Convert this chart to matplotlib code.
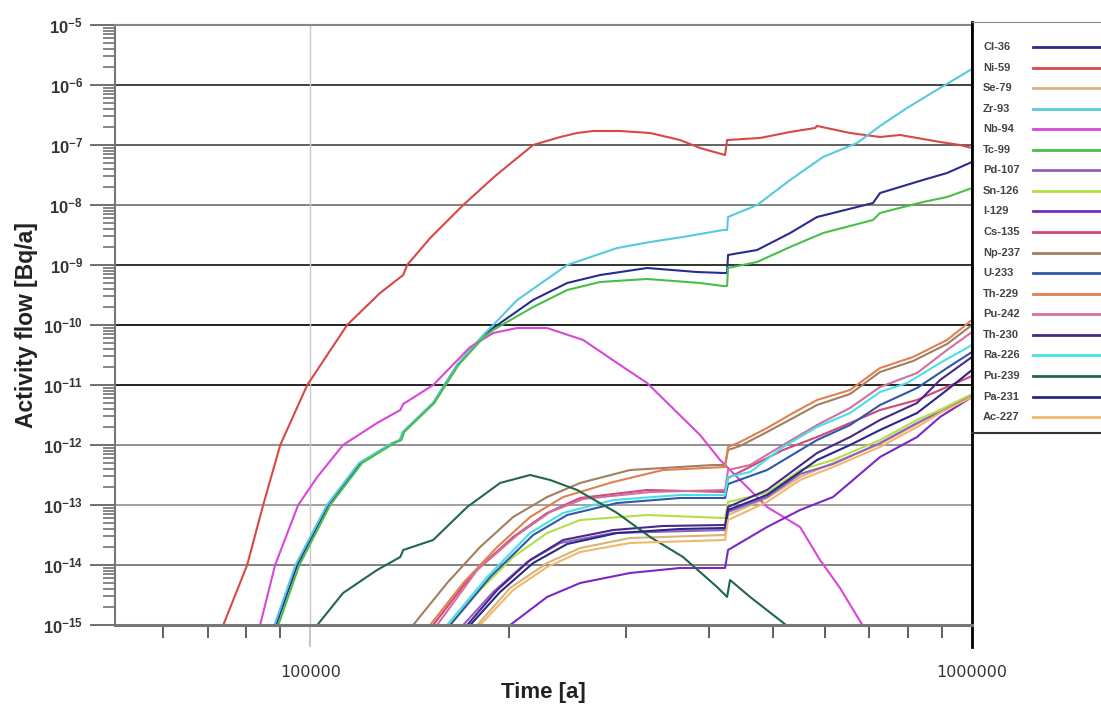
import numpy as np
import matplotlib.pyplot as plt
from matplotlib.ticker import FixedLocator, LogLocator, FuncFormatter, NullFormatter

plt.rcParams['font.family'] = ['Liberation Sans', 'DejaVu Sans']
plt.rcParams['mathtext.fontset'] = 'custom'
plt.rcParams['mathtext.rm'] = 'Liberation Sans'
plt.rcParams['mathtext.bf'] = 'Liberation Sans:bold'

# time [a] and log10 of activity flow [Bq/a]
t_cl36 = [88800, 95600, 106500, 119000, 133400, 136800, 138200, 153400, 166800, 182500, 189000, 217200,
          244500, 274200, 322900, 384200, 420600, 426500, 427900, 473400, 531100, 583300, 708600, 726200,
          843400, 916700, 1000000]
lg_cl36 = [-15, -14, -13, -12.3, -11.967, -11.917, -11.783, -11.3, -10.667, -10.183, -10.05, -9.583,
           -9.3, -9.167, -9.05, -9.117, -9.133, -9.133, -8.833, -8.75, -8.467, -8.2, -7.967, -7.8,
           -7.583, -7.467, -7.283]

t_ni59 = [73900, 80300, 84900, 90100, 98970, 113700, 127500, 138200, 140100, 151800, 170300, 190300,
          217200, 238600, 253000, 267600, 294000, 326300, 362100, 388200, 423500, 426500, 478400, 531100,
          579200, 583300, 654200, 726200, 778600, 894700, 959300, 1000000]
lg_ni59 = [-15, -14, -13, -12, -11, -10, -9.467, -9.167, -9.0, -8.55, -8.0, -7.517,
           -7.0, -6.867, -6.8, -6.767, -6.767, -6.8, -6.917, -7.05, -7.167, -6.917, -6.883, -6.783,
           -6.717, -6.683, -6.8, -6.867, -6.833, -6.95, -7.0, -7.05]

t_se79 = [178800, 200500, 228000, 255800, 304300, 423500, 427900, 490100, 549800, 616600, 726200, 826000,
          894700, 1000000]
lg_se79 = [-15, -14.383, -13.967, -13.717, -13.55, -13.5, -13.167, -12.883, -12.533, -12.3, -11.983, -11.65,
           -11.417, -11.167]

t_zr93 = [88300, 95000, 106000, 118500, 133000, 136500, 138000, 153400, 166800, 182500, 189000, 205500,
          244500, 290900, 326300, 365900, 420600, 426500, 427900, 473400, 531100, 595500, 670300, 726200,
          797800, 894700, 1000000]
lg_zr93 = [-15, -14, -13, -12.3, -11.967, -11.917, -11.783, -11.3, -10.667, -10.167, -10.0, -9.583,
           -9.0, -8.717, -8.617, -8.533, -8.417, -8.417, -8.2, -8.0, -7.583, -7.2, -6.967, -6.683,
           -6.383, -6.05, -5.733]

t_nb94 = [84000, 88500, 95900, 102500, 112100, 126200, 136800, 138200, 153400, 174500, 189000, 205500,
          228000, 258500, 290900, 322900, 388200, 416200, 490100, 549800, 589300, 631700, 684400]
lg_nb94 = [-15, -14, -13, -12.533, -12, -11.633, -11.417, -11.317, -11.0, -10.367, -10.133, -10.05,
           -10.05, -10.25, -10.633, -10.967, -11.833, -12.25, -13.033, -13.367, -13.917, -14.383, -15.017]

t_tc99 = [89500, 96300, 107200, 119800, 134000, 137300, 138700, 154000, 167500, 183000, 189000, 217200,
          244500, 274200, 322900, 388200, 420600, 426500, 427900, 473400, 531100, 595500, 708600, 726200,
          843400, 916700, 1000000]
lg_tc99 = [-15, -14, -13, -12.3, -11.967, -11.917, -11.783, -11.3, -10.667, -10.2, -10.083, -9.7,
           -9.417, -9.283, -9.233, -9.3, -9.35, -9.35, -9.05, -8.95, -8.7, -8.467, -8.25, -8.133,
           -7.95, -7.867, -7.717]

t_pd107 = [170300, 189000, 212700, 238600, 286900, 423500, 427900, 490100, 549800, 616600, 726200, 826000,
           894700, 1000000]
lg_pd107 = [-15, -14.45, -13.95, -13.633, -13.467, -13.417, -13.117, -12.867, -12.483, -12.317, -11.967, -11.633,
            -11.45, -11.183]

t_sn126 = [162700, 180600, 202600, 228000, 255800, 322900, 423500, 427900, 490100, 549800, 616600, 726200,
           826000, 894700, 1000000]
lg_sn126 = [-15, -14.417, -13.867, -13.467, -13.25, -13.167, -13.217, -12.95, -12.8, -12.417, -12.25, -11.917,
            -11.583, -11.417, -11.15]

t_i129 = [200500, 228000, 255800, 304300, 362100, 423500, 427900, 490100, 549800, 616600, 726200, 826000,
          894700, 1000000]
lg_i129 = [-15, -14.533, -14.3, -14.133, -14.05, -14.05, -13.75, -13.367, -13.083, -12.867, -12.2, -11.867,
           -11.533, -11.2]

t_cs135 = [153400, 176300, 202600, 228000, 255800, 322900, 423500, 427900, 518300, 583300, 654200, 726200,
           826000, 894700, 1000000]
lg_cs135 = [-15, -14.133, -13.533, -13.133, -12.883, -12.75, -12.783, -12.55, -12.083, -11.867, -11.633, -11.417,
            -11.25, -11.083, -10.85]

t_np237 = [143100, 161000, 180600, 202600, 228000, 255800, 304300, 406200, 423500, 427900, 446200, 490100,
           536600, 583300, 654200, 726200, 814700, 916700, 1000000]
lg_np237 = [-15, -14.3, -13.7, -13.2, -12.867, -12.633, -12.417, -12.333, -12.333, -12.083, -12.017, -11.783,
            -11.55, -11.333, -11.15, -10.783, -10.6, -10.317, -10.0]

t_u233 = [162700, 187000, 217200, 244500, 290900, 362100, 423500, 427900, 490100, 583300, 654200, 726200,
          826000, 916700, 1000000]
lg_u233 = [-15, -14.2, -13.5, -13.167, -12.967, -12.883, -12.883, -12.65, -12.417, -11.917, -11.667, -11.333,
           -11.05, -10.717, -10.45]

t_th229 = [151800, 170300, 191700, 214900, 241100, 286900, 341300, 423500, 427900, 446200, 490100, 536600,
           583300, 654200, 726200, 814700, 916700, 1000000]
lg_th229 = [-15, -14.3, -13.7, -13.2, -12.867, -12.617, -12.417, -12.367, -12.033, -11.95, -11.717, -11.467,
            -11.25, -11.083, -10.717, -10.533, -10.25, -9.917]

t_pu242 = [155500, 178800, 205500, 230400, 258500, 326300, 423500, 427900, 462100, 518300, 583300, 654200,
           726200, 826000, 916700, 1000000]
lg_pu242 = [-15, -14.083, -13.5, -13.117, -12.9, -12.783, -12.75, -12.417, -12.333, -12.0, -11.667, -11.383,
            -11.033, -10.8, -10.417, -10.117]

t_th230 = [172700, 191700, 214900, 241100, 286900, 341300, 423500, 427900, 490100, 583300, 654200, 726200,
           826000, 894700, 1000000]
lg_th230 = [-15, -14.417, -13.917, -13.583, -13.417, -13.35, -13.333, -13.033, -12.75, -12.133, -11.867, -11.583,
            -11.3, -10.917, -10.533]

t_ra226 = [161000, 185100, 214900, 241100, 286900, 362100, 423500, 427900, 462100, 518300, 583300, 654200,
           726200, 797800, 894700, 1000000]
lg_ra226 = [-15, -14.2, -13.467, -13.133, -12.917, -12.833, -12.833, -12.533, -12.45, -12.033, -11.7, -11.467,
            -11.117, -10.967, -10.633, -10.333]

t_pu239 = [102500, 112100, 126200, 136800, 138200, 153400, 172700, 193600, 214900, 230400, 253100, 290900,
           326300, 365900, 411900, 426500, 430900, 462100, 523600]
lg_pu239 = [-15, -14.467, -14.083, -13.867, -13.75, -13.583, -13.033, -12.633, -12.5, -12.583, -12.75, -13.133,
            -13.533, -13.867, -14.367, -14.533, -14.25, -14.533, -15.0]

t_pa231 = [174500, 193600, 217200, 244500, 290900, 362100, 423500, 427900, 490100, 583300, 654200, 726200,
           826000, 916700, 1000000]
lg_pa231 = [-15, -14.45, -13.967, -13.65, -13.467, -13.4, -13.383, -13.083, -12.833, -12.25, -12.0, -11.75,
            -11.467, -11.083, -10.75]

t_ac227 = [180600, 202600, 228000, 255800, 304300, 423500, 427900, 490100, 549800, 616600, 726200, 826000,
           894700, 1000000]
lg_ac227 = [-15, -14.417, -14.033, -13.783, -13.633, -13.583, -13.25, -12.95, -12.583, -12.367, -12.033, -11.7,
            -11.467, -11.2]

nuclides = ['Cl-36', 'Ni-59', 'Se-79', 'Zr-93', 'Nb-94', 'Tc-99', 'Pd-107', 'Sn-126', 'I-129', 'Cs-135',
            'Np-237', 'U-233', 'Th-229', 'Pu-242', 'Th-230', 'Ra-226', 'Pu-239', 'Pa-231', 'Ac-227']
times = [t_cl36, t_ni59, t_se79, t_zr93, t_nb94, t_tc99, t_pd107, t_sn126, t_i129, t_cs135,
         t_np237, t_u233, t_th229, t_pu242, t_th230, t_ra226, t_pu239, t_pa231, t_ac227]
flows = [lg_cl36, lg_ni59, lg_se79, lg_zr93, lg_nb94, lg_tc99, lg_pd107, lg_sn126, lg_i129, lg_cs135,
         lg_np237, lg_u233, lg_th229, lg_pu242, lg_th230, lg_ra226, lg_pu239, lg_pa231, lg_ac227]
colors = ['#2b2b8f', '#d84848', '#d8b47c', '#58c8e0', '#d848d8', '#48c048', '#9060c0', '#b0e048',
          '#7a28c8', '#d04878', '#a08060', '#3058a8', '#e08050', '#d070a0', '#482888', '#48e0e8',
          '#206848', '#282888', '#f0b868']

W, H = 1101, 706
fig = plt.figure(figsize=(W / 100, H / 100), dpi=100)
ax = fig.add_axes([115 / W, 81 / H, 857 / W, 600 / H])
ax.set_xscale('log')
ax.set_yscale('log')

# decade grid lines, some darker than others
grid_col = {-6: '#333333', -7: '#555555', -8: '#777777', -9: '#222222', -10: '#111111',
            -11: '#111111', -12: '#888888', -13: '#999999', -14: '#777777'}
for k, c in grid_col.items():
    ax.axhline(10.0 ** k, color=c, lw=1.3, zorder=0.5)
ax.axvline(1e5, color='#c8c8c8', lw=1, zorder=0.5)

for t, lg, c in zip(times, flows, colors):
    ax.plot(t, 10.0 ** np.array(lg), color=c, lw=1.5)

ax.set_xlim(50700, 1e6)
ax.set_ylim(1e-15, 1e-5)

ax.yaxis.set_major_locator(FixedLocator([10.0 ** k for k in range(-15, -4)]))
ax.yaxis.set_minor_locator(LogLocator(base=10, subs=np.arange(2, 10), numticks=50))
ax.yaxis.set_minor_formatter(NullFormatter())
ax.yaxis.set_major_formatter(FuncFormatter(lambda v, p: r'$\mathbf{10^{%d}}$' % round(np.log10(v))))
ax.tick_params(axis='y', which='major', direction='out', length=18, width=1.2, color='#555555',
               labelsize=12, labelcolor='#333333', pad=5)
ax.tick_params(axis='y', which='minor', direction='out', length=9, width=1.1, color='#666666')

ax.xaxis.set_major_locator(FixedLocator([1e5, 1e6]))
ax.xaxis.set_minor_locator(LogLocator(base=10, subs=np.arange(2, 10), numticks=50))
ax.xaxis.set_minor_formatter(NullFormatter())
ax.xaxis.set_major_formatter(FuncFormatter(lambda v, p: '%d' % v))
ax.tick_params(axis='x', which='major', direction='out', length=16, width=1.2, color='#bbbbbb',
               labelsize=11.5, labelcolor='#333333', pad=13)
ax.tick_params(axis='x', which='minor', direction='out', length=9, width=1.2, color='#444444')
for lab in ax.get_xticklabels():
    lab.set_fontfamily('DejaVu Sans')
# right frame runs on below the axis as a black tick at 1e6
ax.plot([1e6, 1e6], [0, -16 * 100 / 72 / 600], transform=ax.get_xaxis_transform(),
        color='black', lw=2, clip_on=False)

ax.spines['left'].set_color('#777777')
ax.spines['left'].set_linewidth(1.5)
ax.spines['bottom'].set_color('#777777')
ax.spines['bottom'].set_linewidth(2.2)
ax.spines['top'].set_color('#888888')
ax.spines['top'].set_linewidth(1.5)
ax.spines['right'].set_color('black')
ax.spines['right'].set_linewidth(2)

ax.set_xlabel('Time [a]', fontsize=16, fontweight='bold', color='#222222')
ax.xaxis.set_label_coords(0.5, -0.095)
ax.set_ylabel('Activity flow [Bq/a]', fontsize=16.5, fontweight='bold', color='#222222')
ax.yaxis.set_label_coords(-0.09, 0.5)

# legend box drawn by hand: names on the left, lines on the right
lax = fig.add_axes([972 / W, 1 - 433 / H, 140 / W, 411 / H])
lax.set_xlim(0, 140)
lax.set_ylim(411, 0)
lax.set_xticks([])
lax.set_yticks([])
lax.spines['left'].set_color('black')
lax.spines['left'].set_linewidth(2)
lax.spines['top'].set_color('#888888')
lax.spines['bottom'].set_color('#333333')
lax.spines['bottom'].set_linewidth(1.5)
lax.spines['right'].set_visible(False)
for i, (name, c) in enumerate(zip(nuclides, colors)):
    y = 25 + i * 20.56
    lax.plot([61, 140], [y, y], color=c, lw=2)
    lax.text(11, y, name, ha='left', va='center', fontsize=8, fontweight='bold', color='#444444')

fig.savefig('out.png', dpi=100)
